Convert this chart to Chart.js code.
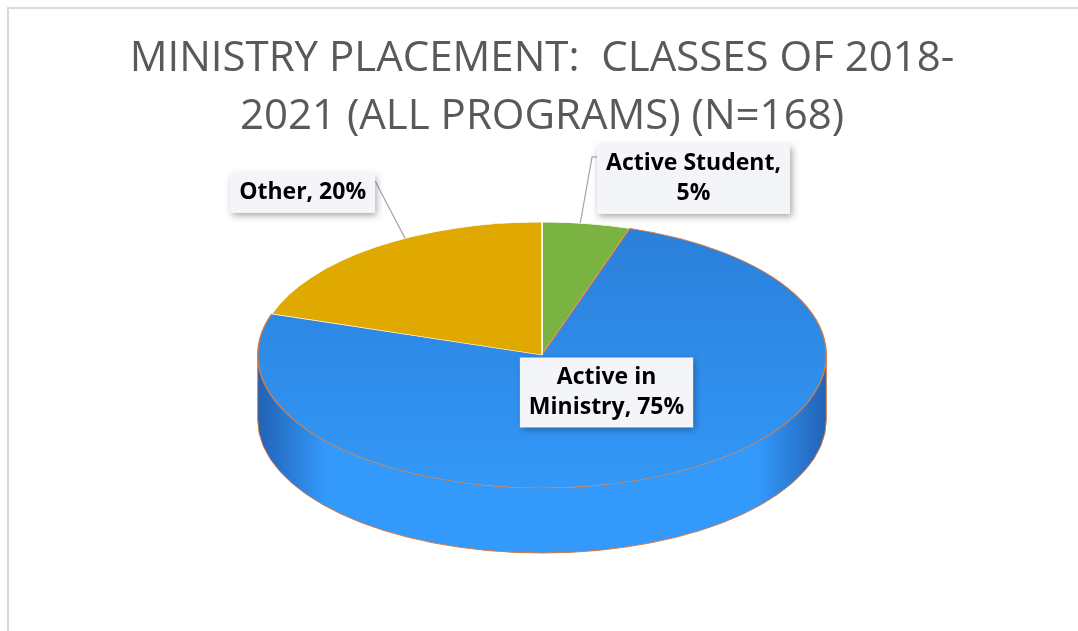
<!DOCTYPE html>
<html>
<head>
<meta charset="utf-8">
<script src="https://cdn.jsdelivr.net/npm/chart.js@4.4.0/dist/chart.umd.min.js"></script>
<style>
    html, body { margin: 0; padding: 0; background: #fff; }
    #wrap { position: relative; width: 1078px; height: 631px; overflow: hidden; }
    #frame { position: absolute; left: 7px; top: 7px; right: -4px; bottom: -4px;
             border-top: 2px solid #d9d9d9; border-left: 2px solid #d9d9d9; }
    canvas { position: absolute; left: 0; top: 0; }
</style>
</head>
<body>
<div id="wrap">
    <div id="frame"></div>
    <canvas id="chart" width="1078" height="631"></canvas>
</div>
<script>
const categories = ['Active Student', 'Active in Ministry', 'Other'];
const percents = [5, 75, 20];
const titleLines = ['MINISTRY PLACEMENT:  CLASSES OF 2018-', '2021 (ALL PROGRAMS) (N=168)'];

const topColors = ['#7BB342', '#2E8BE8', '#E0A900'];
const borderColors = ['#ffffff', '#E07A35', '#ffffff'];
const sideColors = [
    { mid: '#7cb342', edge: '#4d7826' },
    { mid: '#3399fb', edge: '#2262b5' },
    { mid: '#e6ad00', edge: '#9a7200' }
];
// callout boxes, placed in units of the ellipse radii from its centre;
// anchor = where along the slice the leader line ends (0..1)
const calloutLayout = [
    { u: 0.533, v: -1.323, wrap: 180, leader: 'left', anchor: 0.43 },
    { u: 0.227, v: 0.282, wrap: 165, leader: null, anchor: 0.5 },
    { u: -0.842, v: -1.218, wrap: 230, leader: 'right', anchor: 0.6 }
];

function wrapText(ctx, text, maxWidth) {
    const words = text.split(' ');
    const lines = [];
    let line = '';
    words.forEach(w => {
        const test = line ? line + ' ' + w : w;
        if (line && ctx.measureText(test).width > maxWidth) {
            lines.push(line);
            line = w;
        } else {
            line = test;
        }
    });
    if (line) lines.push(line);
    return lines;
}

// flattens the pie into a tilted disc and draws the front wall under it
const pie3d = {
    id: 'pie3d',
    beforeDatasetsDraw(chart, args, opts) {
        const ctx = chart.ctx;
        const area = chart.chartArea;
        const meta = chart.getDatasetMeta(0);
        const first = meta.data[0];
        const R = first.outerRadius;
        const ry = (area.bottom - area.top - opts.depth) / 2;
        const rx = ry / opts.tilt;
        const cx = (area.left + area.right) / 2;
        const cy = area.top + ry;
        chart.$ell = { cx, cy, rx, ry };

        meta.data.forEach((arc, i) => {
            for (let k = -1; k <= 1; k++) {
                const a1 = Math.max(arc.startAngle + k * 2 * Math.PI, 0);
                const a2 = Math.min(arc.endAngle + k * 2 * Math.PI, Math.PI);
                if (a2 <= a1) continue;
                const c = sideColors[i];
                const g = ctx.createLinearGradient(cx - rx, 0, cx + rx, 0);
                g.addColorStop(0, c.edge);
                g.addColorStop(0.12, c.mid);
                g.addColorStop(0.88, c.mid);
                g.addColorStop(1, c.edge);
                ctx.beginPath();
                ctx.ellipse(cx, cy, rx, ry, 0, a1, a2);
                ctx.ellipse(cx, cy + opts.depth, rx, ry, 0, a2, a1, true);
                ctx.closePath();
                ctx.fillStyle = g;
                ctx.fill();
            }
        });

        ctx.strokeStyle = opts.edgeColor;
        ctx.lineWidth = 1;
        ctx.beginPath();
        ctx.moveTo(cx + rx, cy);
        ctx.ellipse(cx, cy + opts.depth, rx, ry, 0, 0, Math.PI);
        ctx.lineTo(cx - rx, cy);
        ctx.stroke();

        ctx.save();
        ctx.translate(cx, cy);
        ctx.scale(rx / R, ry / R);
        ctx.translate(-first.x, -first.y);
    },
    afterDatasetsDraw(chart, args, opts) {
        const ctx = chart.ctx;
        ctx.restore();

        const { cx, cy, rx, ry } = chart.$ell;
        const meta = chart.getDatasetMeta(0);
        const padX = 9, padY = 5, lineH = 30;
        ctx.save();
        ctx.font = "bold 23px 'Open Sans', sans-serif";
        meta.data.forEach((arc, i) => {
            const lay = calloutLayout[i];
            const lines = wrapText(ctx, `${categories[i]}, ${percents[i]}%`, lay.wrap);
            const w = Math.max(...lines.map(l => ctx.measureText(l).width)) + 2 * padX;
            const h = lines.length * lineH + 2 * padY;
            const bx = cx + lay.u * rx - w / 2;
            const by = cy + lay.v * ry - h / 2;

            if (lay.leader) {
                const ang = arc.startAngle + (arc.endAngle - arc.startAngle) * lay.anchor;
                const ex = cx + rx * Math.cos(ang);
                const ey = cy + ry * Math.sin(ang);
                ctx.strokeStyle = '#a6a6a6';
                ctx.lineWidth = 1.2;
                ctx.beginPath();
                if (lay.leader === 'left') {
                    ctx.moveTo(bx, by + 13);
                    ctx.lineTo(bx - 5, by + 13);
                } else {
                    ctx.moveTo(bx + w, by + 8);
                }
                ctx.lineTo(ex, ey);
                ctx.stroke();
            }

            ctx.save();
            ctx.shadowColor = 'rgba(0, 0, 0, 0.35)';
            ctx.shadowBlur = 7;
            ctx.shadowOffsetX = 2;
            ctx.shadowOffsetY = 3;
            ctx.fillStyle = '#F3F5F9';
            ctx.fillRect(bx, by, w, h);
            ctx.restore();

            ctx.fillStyle = '#000';
            ctx.textAlign = 'center';
            ctx.textBaseline = 'middle';
            lines.forEach((l, j) => ctx.fillText(l, bx + w / 2, by + padY + lineH * (j + 0.5)));
        });
        ctx.restore();
    }
};

new Chart(document.getElementById('chart'), {
    type: 'pie',
    data: {
        labels: categories,
        datasets: [{
            data: percents,
            backgroundColor: (c) => {
                const area = c.chart.chartArea;
                if (c.dataIndex !== 1 || !area) return topColors[c.dataIndex];
                const g = c.chart.ctx.createLinearGradient(0, area.top, 0, area.bottom);
                g.addColorStop(0, '#2A7FD9');
                g.addColorStop(1, '#3398F8');
                return g;
            },
            borderColor: borderColors,
            borderWidth: 0.8
        }]
    },
    options: {
        responsive: false,
        animation: false,
        events: [],
        layout: { padding: { top: 10, left: 6, right: 0, bottom: 78 } },
        plugins: {
            legend: { display: false },
            tooltip: { enabled: false },
            title: {
                display: true,
                text: titleLines,
                color: '#595959',
                font: { family: "'Open Sans', sans-serif", size: 42, weight: 'normal', lineHeight: 1.38 },
                padding: { top: 20, bottom: 76 }
            },
            pie3d: { depth: 65, tilt: 0.468, edgeColor: '#D9773A' }
        }
    },
    plugins: [pie3d]
});
</script>
</body>
</html>
